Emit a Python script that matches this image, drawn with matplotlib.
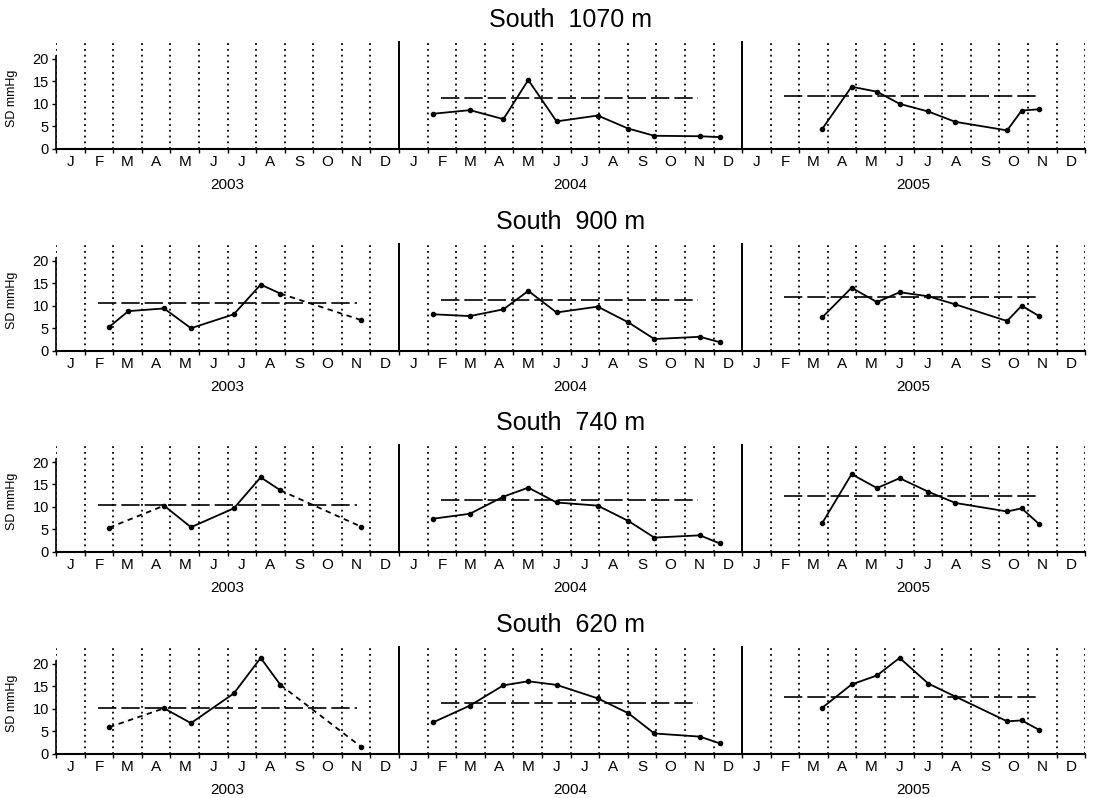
import matplotlib.pyplot as plt
import numpy as np

plt.rcParams['font.family'] = ['Liberation Sans', 'DejaVu Sans']

months = ['J', 'F', 'M', 'A', 'M', 'J', 'J', 'A', 'S', 'O', 'N', 'D']
years = ['2003', '2004', '2005']
titles = ['South  1070 m', 'South  900 m', 'South  740 m', 'South  620 m']

# sampling dates, in months counted from Jan 2003
x_2003_long = [1.86, 2.53, 3.78, 4.72, 6.22, 7.16, 7.85, 10.68]
x_2003_short = [1.86, 3.78, 4.72, 6.22, 7.16, 7.85, 10.68]
x_2004 = [13.2, 14.48, 15.65, 16.52, 17.51, 18.95, 20.02, 20.93, 22.52, 23.22]
x_2005 = [26.8, 27.83, 28.72, 29.51, 30.51, 31.46, 33.27, 33.78, 34.39]

# SD mmHg
sd_1070_2004 = [7.8, 8.6, 6.6, 15.3, 6.1, 7.4, 4.5, 2.9, 2.8, 2.6]
sd_1070_2005 = [4.4, 13.8, 12.7, 10.0, 8.3, 6.0, 4.1, 8.5, 8.8]
sd_900_2003 = [5.3, 8.8, 9.4, 5.0, 8.1, 14.7, 12.7, 6.8]
sd_900_2004 = [8.1, 7.7, 9.2, 13.3, 8.5, 9.8, 6.3, 2.6, 3.1, 1.9]
sd_900_2005 = [7.4, 14.0, 10.8, 13.0, 12.1, 10.3, 6.6, 10.0, 7.7]
sd_740_2003 = [5.4, 10.3, 5.5, 9.7, 16.6, 13.7, 5.6]
sd_740_2004 = [7.4, 8.5, 12.3, 14.3, 11.0, 10.3, 6.9, 3.2, 3.7, 1.9]
sd_740_2005 = [6.4, 17.3, 14.2, 16.4, 13.4, 10.9, 9.0, 9.7, 6.2]
sd_620_2003 = [5.9, 10.1, 6.8, 13.4, 21.3, 15.3, 1.5]
sd_620_2004 = [7.0, 10.7, 15.2, 16.1, 15.3, 12.3, 9.0, 4.5, 3.8, 2.3]
sd_620_2005 = [10.2, 15.4, 17.4, 21.3, 15.6, 12.7, 7.2, 7.4, 5.3]

# yearly mean lines
mean_x = [(1.46, 10.54), (13.47, 22.45), (25.45, 34.39)]
mean_1070 = [None, 11.3, 11.7]
mean_900 = [10.5, 11.35, 11.9]
mean_740 = [10.5, 11.6, 12.5]
mean_620 = [10.1, 11.25, 12.6]

# (x, y, [(start, end, style)])
panels = [
    [(x_2004, sd_1070_2004, [(0, 9, '-')]),
     (x_2005, sd_1070_2005, [(0, 8, '-')])],
    [(x_2003_long, sd_900_2003, [(0, 6, '-'), (6, 7, '--')]),
     (x_2004, sd_900_2004, [(0, 9, '-')]),
     (x_2005, sd_900_2005, [(0, 8, '-')])],
    [(x_2003_short, sd_740_2003, [(0, 1, '--'), (1, 5, '-'), (5, 6, '--')]),
     (x_2004, sd_740_2004, [(0, 9, '-')]),
     (x_2005, sd_740_2005, [(0, 8, '-')])],
    [(x_2003_short, sd_620_2003, [(0, 1, '--'), (1, 5, '-'), (5, 6, '--')]),
     (x_2004, sd_620_2004, [(0, 9, '-')]),
     (x_2005, sd_620_2005, [(0, 8, '-')])],
]
means = [mean_1070, mean_900, mean_740, mean_620]

fig = plt.figure(figsize=(10.96, 7.98), dpi=100)
bottoms = [0.8135, 0.5605, 0.3083, 0.0555]

for i in range(4):
    ax = fig.add_axes([0.0511, bottoms[i], 0.939, 0.1353])
    ax.set_xlim(0, 36)
    ax.set_ylim(0, 24)
    ax.spines['top'].set_visible(False)
    ax.spines['right'].set_visible(False)
    ax.spines['left'].set_bounds(0, 20.7)
    ax.spines['left'].set_linewidth(1.2)
    ax.spines['bottom'].set_linewidth(1.5)

    for m in range(37):
        if m in (12, 24):
            ax.plot([m, m], [0, 24], color='black', lw=1.4, zorder=1)
        else:
            ax.plot([m, m], [0, 24], color='black', lw=1.3,
                    ls=(0, (1, 2.2)), zorder=1)

    for xs, ys, segs in panels[i]:
        for a, b, style in segs:
            if style == '--':
                ax.plot(xs[a:b + 1], ys[a:b + 1], color='black', lw=1.3,
                        dashes=(3, 2.5), zorder=3)
            else:
                ax.plot(xs[a:b + 1], ys[a:b + 1], color='black', lw=1.3,
                        zorder=3)
        ax.plot(xs, ys, 'o', color='black', ms=3, zorder=4)

    for k in range(3):
        if means[i][k] is not None:
            ax.plot(mean_x[k], [means[i][k], means[i][k]], color='black',
                    lw=1.2, dashes=(11, 3), zorder=2)

    ax.set_xticks(np.arange(36) + 0.5)
    ax.set_xticklabels(months * 3)
    ax.set_xticks(np.arange(37), minor=True)
    ax.tick_params(axis='x', which='major', length=0, pad=4.5, labelsize=11)
    ax.tick_params(axis='x', which='minor', length=3, width=1, direction='out')
    ax.set_yticks([0, 5, 10, 15, 20])
    ax.tick_params(axis='y', length=3, width=1, pad=2, labelsize=10.5)

    for k in range(3):
        ax.annotate(years[k], xy=(6 + 12 * k, 0),
                    xycoords=('data', 'axes fraction'),
                    xytext=(0, -36), textcoords='offset pixels',
                    ha='center', va='center', fontsize=11)

    ax.set_title(titles[i], fontsize=18, pad=10)
    ax.set_ylabel('SD mmHg', fontsize=9)
    ax.yaxis.set_label_coords(-0.037, 0.47)

fig.savefig('out.png', dpi=100)
